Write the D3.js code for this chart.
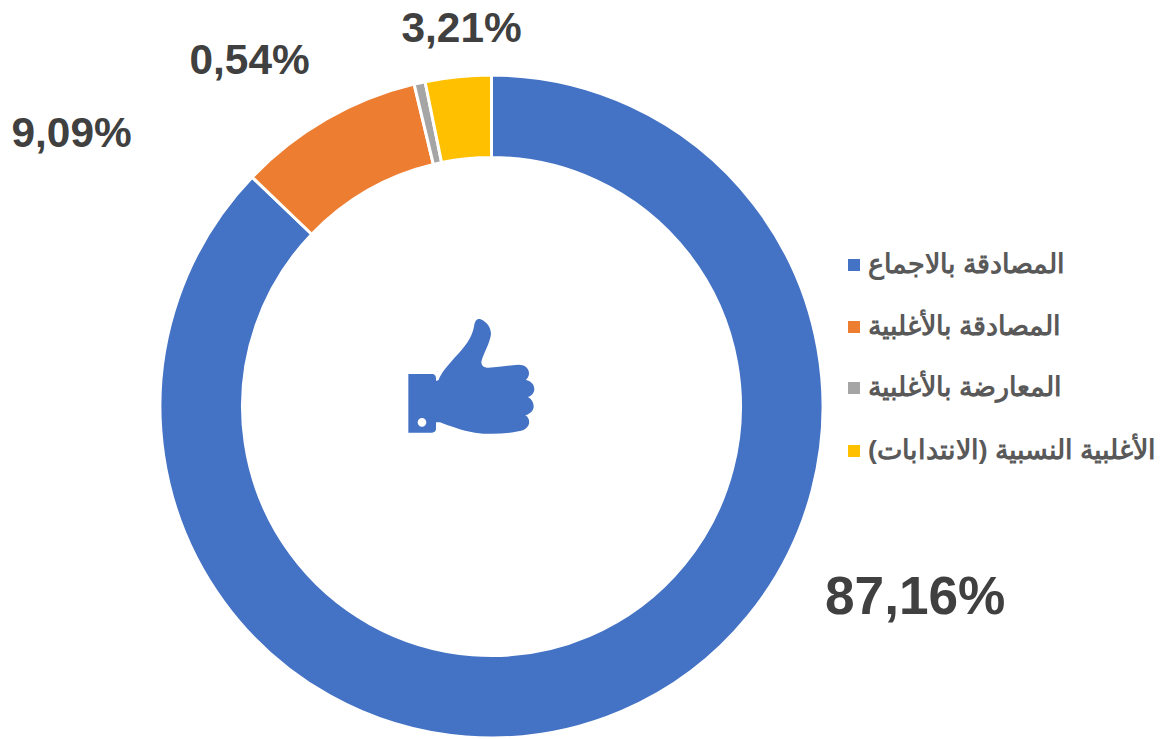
<!DOCTYPE html>
<html lang="ar"><head><meta charset="utf-8">
<script src="https://cdn.jsdelivr.net/npm/d3@7/dist/d3.min.js"></script>
<style>html,body{margin:0;padding:0;background:#fff;overflow:hidden}svg{display:block}</style>
</head><body><svg id="c" width="1160" height="739"></svg>
<script>
const categories = ["المصادقة بالاجماع","المصادقة بالأغلبية","المعارضة بالأغلبية","الأغلبية النسبية (الانتدابات)"];
const values = [87.16, 9.09, 0.54, 3.21];
const valueLabels = ["87,16%","9,09%","0,54%","3,21%"];
const colors = ["#4472C4","#ED7D31","#A5A5A5","#FFC000"];
const labelBoxes = [[825,614,53.2],[11.5,147,42.4],[189.5,74,42.4],[401.5,42,42.4]];
const legendY = [265,327,388,451];
const font = "'Liberation Sans',Arial,sans-serif";

const svg = d3.select("#c");
const g = svg.append("g").attr("transform","translate(491.5,406.5)");
const pie = d3.pie().sort(null).value(d=>d)(values);
const arc = d3.arc().innerRadius(249).outerRadius(331.5);
g.selectAll("path.s").data(pie).join("path").attr("class","s")
  .attr("d",arc).attr("fill",(d,i)=>colors[i])
  .attr("stroke","#fff").attr("stroke-width",3);

svg.selectAll("text.v").data(valueLabels).join("text").attr("class","v")
  .attr("x",(d,i)=>labelBoxes[i][0]).attr("y",(d,i)=>labelBoxes[i][1])
  .attr("font-size",(d,i)=>labelBoxes[i][2]).attr("font-family",font)
  .attr("font-weight","bold").attr("fill","#404040").text(d=>d);

const leg = svg.selectAll("g.l").data(categories).join("g").attr("class","l")
  .attr("transform",(d,i)=>`translate(848,${legendY[i]})`);
leg.append("rect").attr("y",-6).attr("width",12).attr("height",12).attr("fill",(d,i)=>colors[i]);
leg.append("text").attr("x",20).attr("y",8).attr("direction","rtl").attr("text-anchor","end")
  .attr("font-size",26.5).attr("font-family",font).attr("font-weight","bold").attr("fill","#595959").text(d=>d);

// thumbs-up icon
svg.append("g").attr("transform","translate(390,300) scale(0.3333)")
  .append("path").attr("fill","#4472C4").attr("fill-rule","evenodd").attr("d",
  "M55 222H128Q138 224 138 236V243L146 240C152 222 170 200 195 172C225 140 245 115 252 80C255 60 262 55 272 58C290 66 303 82 303 102C300 130 280 160 274 185C274 197 282 203 295 203C325 201 355 197 385 194C405 194 418 205 417 222C416 230 412 236 408 240C424 244 433 254 433 267C433 279 424 288 414 291C425 297 431 307 431 319C431 331 422 342 406 346C416 352 419 362 417 371C413 385 400 392 385 394C345 402 295 404 255 398C215 392 180 378 150 367H138V388Q136 398 126 398H55Z M96 354A13 13 0 1 0 96 380A13 13 0 1 0 96 354Z");
</script></body></html>
